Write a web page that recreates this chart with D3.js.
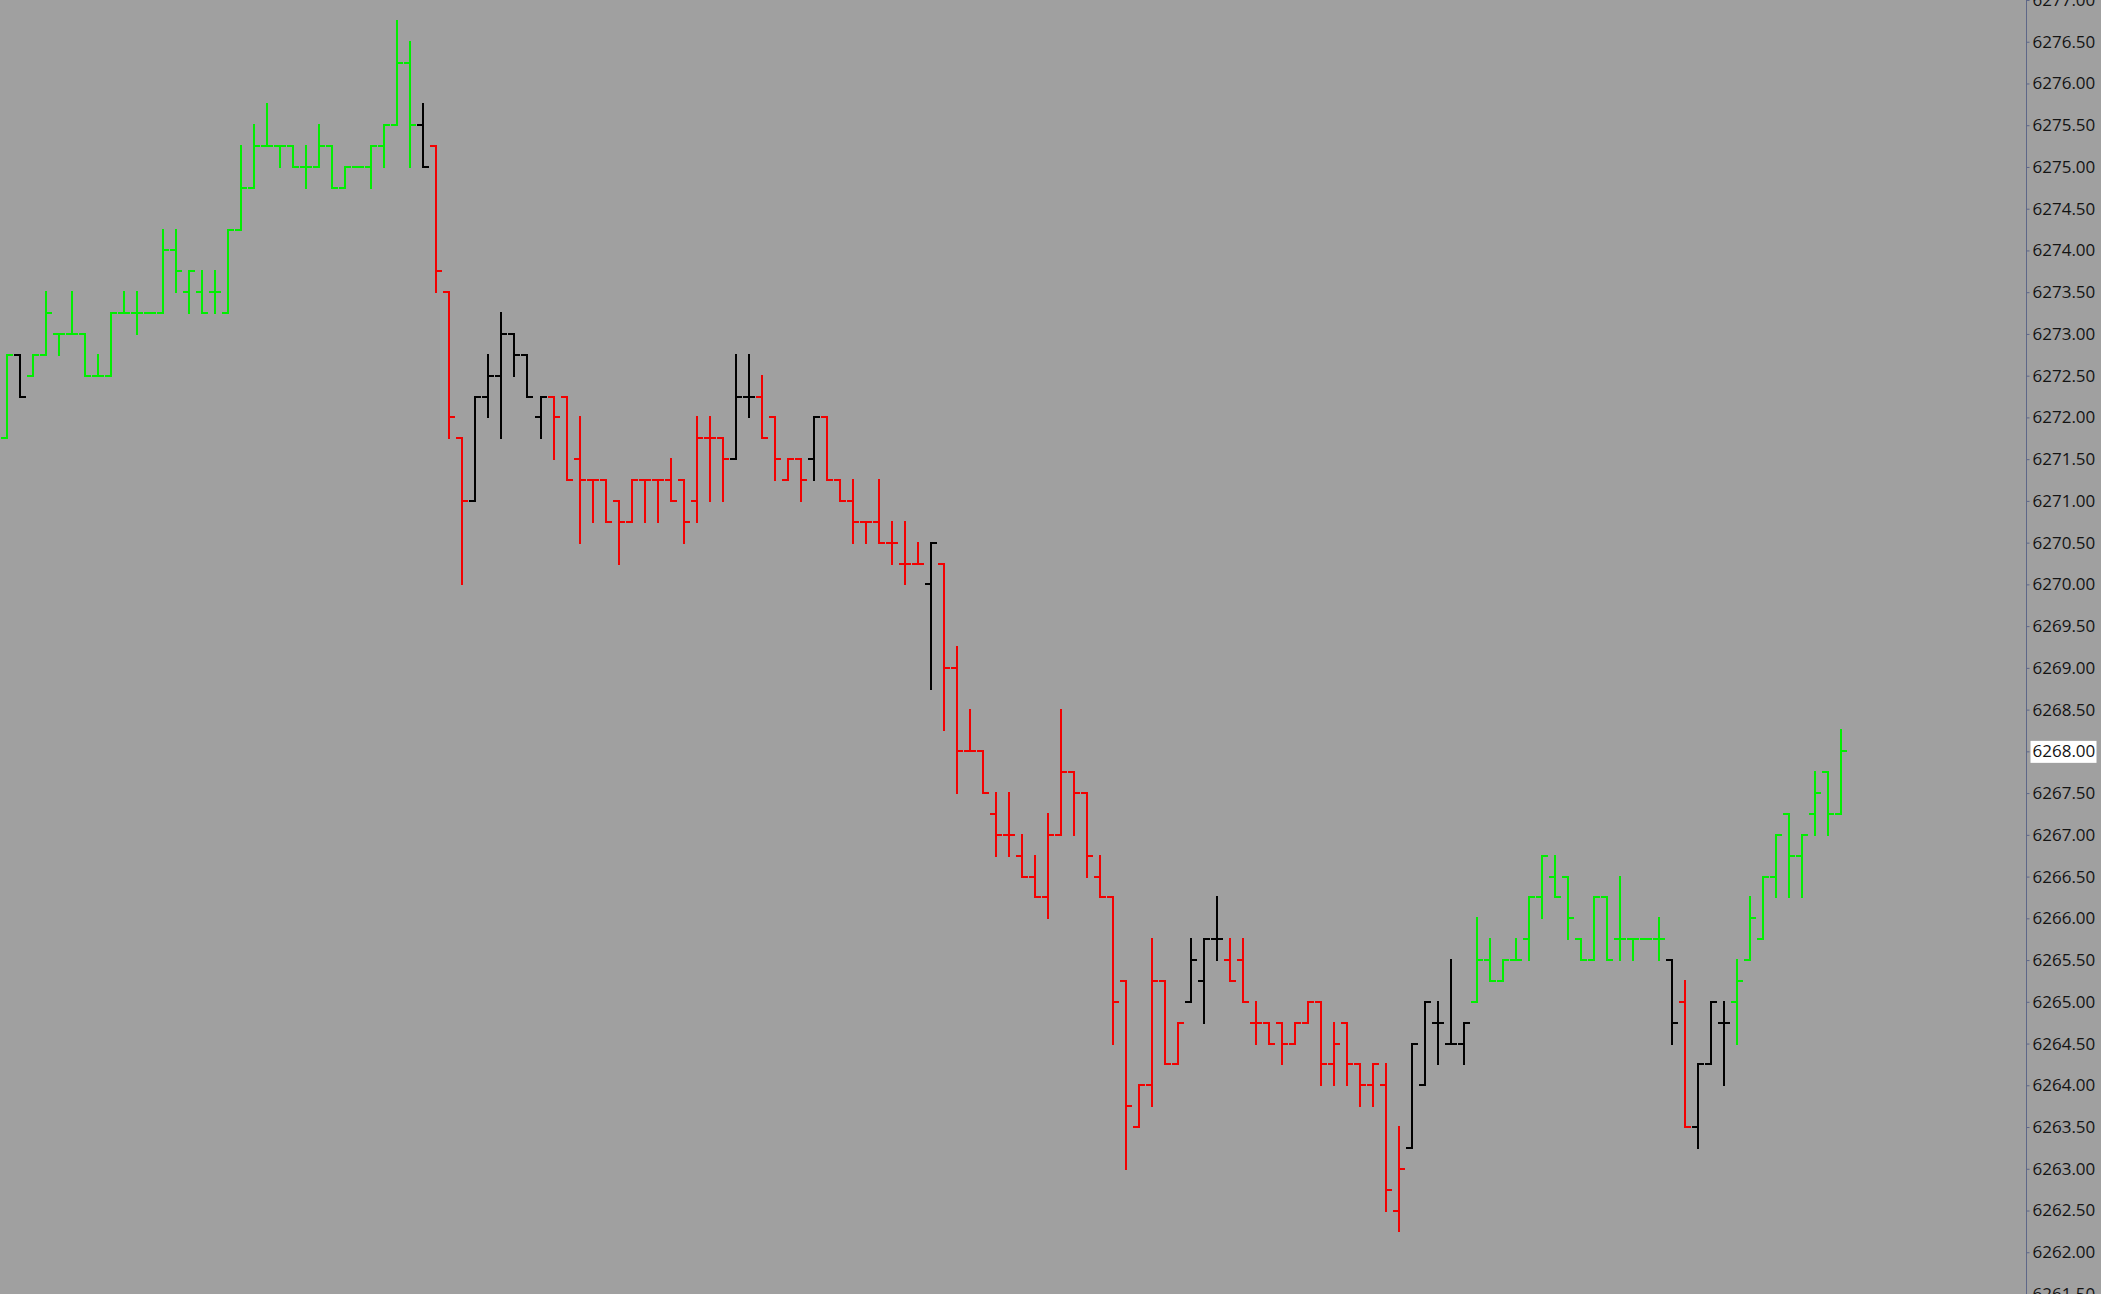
<!DOCTYPE html>
<html>
<head>
<meta charset="utf-8">
<script src="https://cdn.jsdelivr.net/npm/d3@7"></script>
<style>
  html, body { margin: 0; padding: 0; background: #a0a0a0; overflow: hidden; }
  svg { display: block; }
</style>
</head>
<body>
<script>
// ---- DATA ----
const opens = [
6271.75,6272.75,6272.5,6272.75,6273,6273,6273,6272.5,6272.5,6273.25,
6273.25,6273.25,6273.25,6274,6273.5,6273.5,6273.5,6273.25,6274.25,6274.75,
6275.25,6275.25,6275.25,6275,6275,6275.25,6274.75,6275,6275,6275.25,
6275.5,6276.25,6275.5,6275.25,6273.5,6271.75,6271,6272.25,6272.5,6273,
6272.75,6272,6272.25,6272.25,6271.5,6271.25,6271.25,6271,6270.75,6271.25,
6271.25,6271.25,6271.25,6271,6271.75,6271.75,6271.5,6272.25,6272.25,6272,
6271.25,6271.5,6271.5,6272,6271.25,6271,6270.75,6270.75,6270.5,6270.25,
6270.25,6270,6270.25,6269,6268,6268,6267.25,6267,6266.75,6266.5,
6266.25,6267,6267.75,6267.5,6266.5,6266.25,6265.25,6263.5,6264,6265.25,
6264.25,6265,6265.25,6265.75,6265.5,6265.5,6264.75,6264.75,6264.75,6264.5,
6264.75,6265,6264.25,6264.75,6264.25,6264,6264,6262.5,6263.25,6264,
6264.75,6264.5,6264.5,6265,6265.5,6265.25,6265.5,6265.75,6266.25,6266.5,
6266.5,6265.75,6265.5,6266.25,6265.75,6265.75,6265.75,6265.75,6265.5,6265,
6263.5,6264.25,6264.75,6265,6265.5,6265.75,6266.5,6267.25,6266.75,6267.25,
6267.75,6267.25];
const highs = [
6272.75,6272.75,6272.75,6273.5,6273,6273.5,6273,6272.75,6273.25,6273.5,
6273.5,6273.25,6274.25,6274.25,6273.75,6273.75,6273.75,6274.25,6275.25,6275.5,
6275.75,6275.25,6275.25,6275.25,6275.5,6275.25,6275,6275,6275.25,6275.5,
6276.75,6276.5,6275.75,6275.25,6273.5,6271.75,6272.25,6272.75,6273.25,6273,
6272.75,6272.25,6272.25,6272.25,6272,6271.25,6271.25,6271,6271.25,6271.25,
6271.25,6271.5,6271.25,6272,6272,6271.75,6272.75,6272.75,6272.5,6272,
6271.5,6271.5,6272,6272,6271.25,6271.25,6270.75,6271.25,6270.75,6270.75,
6270.5,6270.5,6270.25,6269.25,6268.5,6268,6267.5,6267.5,6267,6266.75,
6267.25,6268.5,6267.75,6267.5,6266.75,6266.25,6265.25,6264,6265.75,6265.25,
6264.75,6265.75,6265.75,6266.25,6265.75,6265.75,6265,6264.75,6264.75,6264.75,
6265,6265,6264.75,6264.75,6264.25,6264.25,6264.25,6263.5,6264.5,6265,
6265,6265.5,6264.75,6266,6265.75,6265.5,6265.75,6266.25,6266.75,6266.75,
6266.5,6265.75,6266.25,6266.25,6266.5,6265.75,6265.75,6266,6265.5,6265.25,
6264.25,6265,6265,6265.5,6266.25,6266.5,6267,6267.25,6267,6267.75,
6267.75,6268.25];
const lows = [
6271.75,6272.25,6272.5,6272.75,6272.75,6273,6272.5,6272.5,6272.5,6273.25,
6273,6273.25,6273.25,6273.5,6273.25,6273.25,6273.25,6273.25,6274.25,6274.75,
6275.25,6275,6275,6274.75,6275,6274.75,6274.75,6275,6274.75,6275,
6275.5,6275,6275,6273.5,6271.75,6270,6271,6272,6271.75,6272.5,
6272.25,6271.75,6271.5,6271.25,6270.5,6270.75,6270.75,6270.25,6270.75,6270.75,
6270.75,6271,6270.5,6270.75,6271,6271,6271.5,6272,6271.75,6271.25,
6271.25,6271,6271.25,6271.25,6271,6270.5,6270.5,6270.5,6270.25,6270,
6270.25,6268.75,6268.25,6267.5,6268,6267.5,6266.75,6266.75,6266.5,6266.25,
6266,6267,6267,6266.5,6266.25,6264.5,6263,6263.5,6263.75,6264.25,
6264.25,6265,6264.75,6265.5,6265.25,6265,6264.5,6264.5,6264.25,6264.5,
6264.75,6264,6264,6264,6263.75,6263.75,6262.5,6262.25,6263.25,6264,
6264.25,6264.5,6264.25,6265,6265.25,6265.25,6265.5,6265.5,6266,6266.25,
6265.75,6265.5,6265.5,6265.5,6265.5,6265.5,6265.75,6265.5,6264.5,6263.5,
6263.25,6264.25,6264,6264.5,6265.5,6265.75,6266.25,6266.25,6266.25,6267,
6267,6267.25];
const closes = [
6272.75,6272.25,6272.75,6273.25,6273,6273,6272.5,6272.5,6273.25,6273.25,
6273.25,6273.25,6274,6273.75,6273.75,6273.25,6273.5,6274.25,6274.75,6275.25,
6275.25,6275.25,6275,6275,6275.25,6274.75,6275,6275,6275.25,6275.5,
6276.25,6275.5,6275,6273.75,6272,6271,6272.25,6272.5,6273,6272.75,
6272.25,6272.25,6272,6271.25,6271.25,6271.25,6270.75,6270.75,6271.25,6271.25,
6271.25,6271,6270.75,6271.75,6271.75,6271.5,6272.25,6272.25,6271.75,6271.5,
6271.5,6271.25,6272,6271.25,6271,6270.75,6270.75,6270.5,6270.5,6270.25,
6270.25,6270.5,6269,6268,6268,6267.5,6267,6267,6266.5,6266.25,
6267,6267.75,6267.5,6266.75,6266.25,6265,6263.75,6264,6265.25,6264.25,
6264.75,6265.5,6265.75,6265.75,6265.25,6265,6264.75,6264.5,6264.5,6264.75,
6265,6264.25,6264.5,6264.25,6264,6264.25,6262.75,6263,6264.5,6265,
6264.75,6264.5,6264.75,6265.5,6265.25,6265.5,6265.5,6266.25,6266.75,6266.25,
6266,6265.5,6266.25,6265.5,6265.75,6265.75,6265.75,6265.75,6264.75,6263.5,
6264.25,6265,6264.75,6265.25,6266,6266.5,6267,6266.75,6267,6267.5,
6267.25,6268];
// bar colour state: g = green, r = red, k = black
const barState = (
  "gkggggggggggggggggggggggggggggggk" +      // 0-32
  "rrr" + "kkkkkk" +                          // 33-41
  "rrrrrrrrrrrrrr" + "kk" + "rrrr" + "k" +    // 42-62
  "rrrrrrrr" + "k" +                          // 63-71
  "rrrrrrrrrrrrrrrrrrr" + "kkk" +             // 72-93
  "rrrrrrrrrrrrrr" + "kkkkk" +                // 94-112
  "ggggggggggggggg" + "k" + "r" + "kkk" +      // 113-132
  "ggggggggg"                                 // 133-141
).split("");
const yTickValues = [6261.5,6262,6262.5,6263,6263.5,6264,6264.5,6265,6265.5,6266,
  6266.5,6267,6267.5,6268,6268.5,6269,6269.5,6270,6270.5,6271,6271.5,6272,6272.5,
  6273,6273.5,6274,6274.5,6275,6275.5,6276,6276.5,6277];
const lastPrice = 6268.00;

// ---- LAYOUT / STYLE ----
const W = 2101, H = 1294;
const axisX = 2026;
const colorMap = { g: "#00ee00", r: "#f20000", k: "#000000" };
const bg = "#a0a0a0";

const svg = d3.select("body").append("svg")
  .attr("width", W).attr("height", H)
  .style("background", bg);

svg.append("rect").attr("width", W).attr("height", H).attr("fill", bg);

const y = d3.scaleLinear().domain([6261.5, 6277]).range([H, 0]);
const idx = d3.range(opens.length);
const x = d3.scaleLinear().domain([0, opens.length - 1]).range([7.3, 1841]);

const bars = idx.map(i => ({
  i, o: opens[i], h: highs[i], l: lows[i], c: closes[i], s: barState[i]
}));

const gBars = svg.append("g").attr("shape-rendering", "crispEdges");
const bar = gBars.selectAll("g.bar").data(bars).join("g").attr("class", "bar")
  .attr("stroke", d => colorMap[d.s])
  .attr("stroke-width", 2);

const cx = d => Math.round(x(d.i));
bar.append("line")
  .attr("x1", cx).attr("x2", cx)
  .attr("y1", d => y(d.h) - 1).attr("y2", d => y(d.l) + 1);
bar.append("line")
  .attr("x1", d => cx(d) - 6).attr("x2", d => cx(d))
  .attr("y1", d => y(d.o)).attr("y2", d => y(d.o));
bar.append("line")
  .attr("x1", d => cx(d)).attr("x2", d => cx(d) + 6)
  .attr("y1", d => y(d.c)).attr("y2", d => y(d.c));

// ---- RIGHT PRICE AXIS ----
const axis = d3.axisRight(y)
  .tickValues(yTickValues)
  .tickFormat(d3.format(".2f"))
  .tickSize(3)
  .tickPadding(3);

const gAxis = svg.append("g")
  .attr("transform", `translate(${axisX + 0.5},0)`)
  .call(axis);
gAxis.select(".domain").attr("stroke", "#5e6788").attr("stroke-width", 1)
  .attr("d", `M0,0V${H}`);
gAxis.selectAll(".tick line").attr("stroke", "#5e6788");
gAxis.selectAll(".tick text")
  .attr("fill", "#141414")
  .style("font-family", "'Open Sans', 'Noto Sans', sans-serif")
  .style("font-size", "17px");

// highlight of the last price label
const lastTick = gAxis.selectAll(".tick").filter(d => d === lastPrice);
lastTick.insert("rect", "text")
  .attr("x", 4).attr("y", -11).attr("width", 66).attr("height", 22)
  .attr("fill", "#ffffff");
</script>
</body>
</html>
